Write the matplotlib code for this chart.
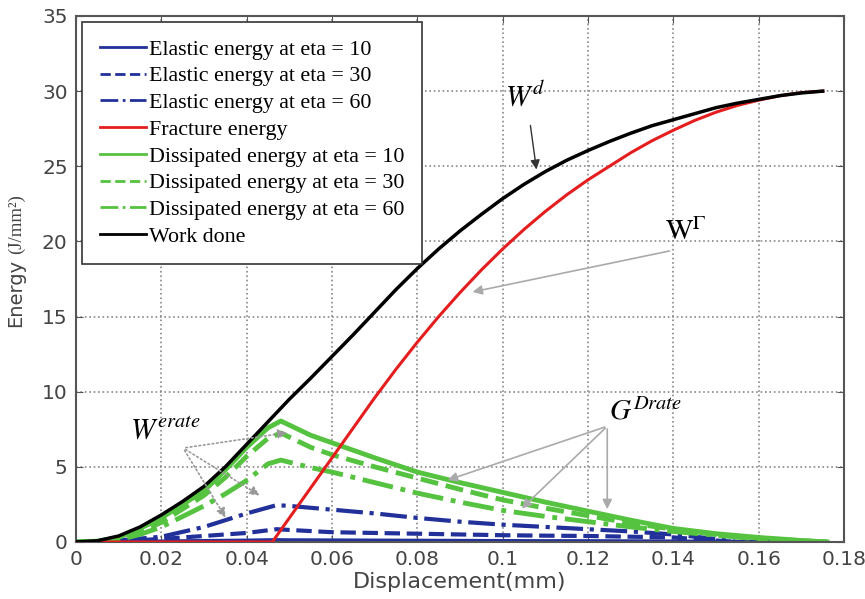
import numpy as np
from matplotlib import pyplot as plt

plt.rcParams['mathtext.fontset'] = 'stix'

# Work done (black)
x_work = [0, 0.005, 0.01, 0.015, 0.02, 0.025, 0.03, 0.035, 0.04, 0.045, 0.05, 0.055,
          0.06, 0.065, 0.07, 0.075, 0.08, 0.085, 0.09, 0.095, 0.1, 0.105, 0.11, 0.115,
          0.12, 0.125, 0.13, 0.135, 0.14, 0.145, 0.15, 0.155, 0.16, 0.165, 0.17, 0.175]
work_done = [0, 0.08, 0.4, 1.0, 1.8, 2.7, 3.7, 5.0, 6.5, 8.0, 9.5, 10.9,
             12.35, 13.8, 15.3, 16.8, 18.2, 19.5, 20.7, 21.8, 22.85, 23.8, 24.65, 25.4,
             26.05, 26.65, 27.2, 27.7, 28.1, 28.5, 28.9, 29.2, 29.45, 29.7, 29.88, 30.0]

# Fracture energy (red)
x_frac = [0, 0.046, 0.05, 0.055, 0.06, 0.065, 0.07, 0.075, 0.08, 0.085, 0.09, 0.095,
          0.1, 0.105, 0.11, 0.115, 0.12, 0.125, 0.13, 0.135, 0.14, 0.145, 0.15, 0.155,
          0.16, 0.165, 0.17, 0.175]
fracture = [0, 0, 1.6, 3.6, 5.6, 7.6, 9.6, 11.5, 13.3, 15.0, 16.6, 18.1,
            19.5, 20.8, 22.0, 23.1, 24.1, 25.0, 25.9, 26.7, 27.4, 28.05, 28.6, 29.05,
            29.4, 29.7, 29.9, 30.0]

# Dissipated energy (green)
x_diss = [0, 0.005, 0.01, 0.015, 0.02, 0.025, 0.03, 0.035, 0.04, 0.045, 0.048, 0.055,
          0.06, 0.07, 0.08, 0.09, 0.1, 0.11, 0.12, 0.13, 0.14, 0.15, 0.16, 0.17, 0.176]
diss_eta10 = [0, 0.05, 0.3, 0.9, 1.6, 2.5, 3.4, 4.8, 6.3, 7.6, 8.05, 7.1,
              6.6, 5.6, 4.65, 3.95, 3.3, 2.65, 2.05, 1.45, 0.9, 0.55, 0.3, 0.1, 0]
diss_eta30 = [0, 0.03, 0.2, 0.7, 1.3, 2.2, 3.1, 4.3, 5.7, 6.9, 7.25, 6.3,
              5.8, 5.0, 4.25, 3.5, 2.8, 2.25, 1.75, 1.25, 0.85, 0.5, 0.25, 0.08, 0]
diss_eta60 = [0, 0.02, 0.15, 0.5, 1.0, 1.7, 2.4, 3.2, 4.1, 5.2, 5.45, 4.95,
              4.65, 3.95, 3.25, 2.65, 2.1, 1.7, 1.35, 1.0, 0.7, 0.45, 0.2, 0.06, 0]

# Elastic energy (blue)
x_elas = [0, 0.01, 0.02, 0.03, 0.04, 0.047, 0.05, 0.06, 0.07, 0.08, 0.09, 0.1,
          0.11, 0.12, 0.13, 0.14, 0.15, 0.155, 0.176]
elas_eta10 = [0, 0.01, 0.03, 0.06, 0.09, 0.12, 0.11, 0.1, 0.09, 0.08, 0.07, 0.06,
              0.05, 0.05, 0.04, 0.03, 0.01, 0, 0]
elas_eta30 = [0, 0.05, 0.2, 0.4, 0.6, 0.85, 0.8, 0.65, 0.6, 0.55, 0.5, 0.45,
              0.42, 0.4, 0.35, 0.3, 0.1, 0, 0]
elas_eta60 = [0, 0.1, 0.35, 1.0, 1.9, 2.45, 2.4, 2.15, 1.9, 1.6, 1.35, 1.15,
              1.0, 0.85, 0.7, 0.5, 0.2, 0, 0]

x_ticks = [0, 0.02, 0.04, 0.06, 0.08, 0.1, 0.12, 0.14, 0.16, 0.18]
x_tick_labels = ['0', '0.02', '0.04', '0.06', '0.08', '0.1', '0.12', '0.14', '0.16', '0.18']
y_ticks = [0, 5, 10, 15, 20, 25, 30, 35]

blue = '#22309a'
red = '#e41e1e'
green = '#55c340'

fig = plt.figure(figsize=(8.65, 5.99), dpi=100)
ax = fig.add_axes([0.0879, 0.0952, 0.8879, 0.8781])

ax.plot(x_elas, elas_eta10, color=blue, lw=3, ls='-', label='Elastic energy at eta = 10')
ax.plot(x_elas, elas_eta30, color=blue, lw=3, ls='--', label='Elastic energy at eta = 30')
ax.plot(x_elas, elas_eta60, color=blue, lw=3, ls='-.', label='Elastic energy at eta = 60')
ax.plot(x_frac, fracture, color=red, lw=2.2, ls='-', label='Fracture energy', zorder=4)
ax.plot(x_diss, diss_eta10, color=green, lw=3.5, ls='-', label='Dissipated energy at eta = 10')
ax.plot(x_diss, diss_eta30, color=green, lw=3.5, ls='--', label='Dissipated energy at eta = 30')
ax.plot(x_diss, diss_eta60, color=green, lw=3.5, ls='-.', label='Dissipated energy at eta = 60')
ax.plot(x_work, work_done, color='black', lw=2.5, ls='-', label='Work done', zorder=5)

ax.set_xlim(0, 0.18)
ax.set_ylim(0, 35)
ax.set_xticks(x_ticks)
ax.set_xticklabels(x_tick_labels)
ax.set_yticks(y_ticks)
ax.tick_params(direction='in', top=True, right=True, length=5, labelsize=14.5,
               labelcolor='#444444', color='#555555', pad=6)
ax.grid(True, ls=':', color='#888888', lw=1.2)
for s in ax.spines.values():
    s.set_color('#555555')
    s.set_linewidth(1.5)

ax.set_xlabel('Displacement(mm)', fontsize=16, color='#444444', labelpad=2)
fig.text(0.018, 1 - 293 / 599, 'Energy', rotation=90, ha='center', va='center',
         fontsize=14, color='#444444')
fig.text(0.019, 1 - 224 / 599, '(J/mm²)', rotation=90, ha='center', va='center',
         fontsize=13.5, color='#444444', family='Liberation Serif')

leg = ax.legend(loc='upper left', bbox_to_anchor=(0.008, 0.989), borderaxespad=0,
                prop={'family': 'Liberation Serif', 'size': 15.8}, fancybox=False,
                framealpha=1, edgecolor='#333333', handlelength=2.1, handletextpad=0.15,
                labelspacing=0.29, borderpad=0.8)
leg.get_frame().set_linewidth(1.2)
for h in leg.get_lines():
    h.set_linewidth(2)
leg.set_zorder(10)

# annotations
ax.text(0.1005, 29.7, '$W^{d}$', fontsize=21, va='center', ha='left')
ax.annotate('', xy=(0.108, 24.6), xytext=(0.1064, 27.9),
            arrowprops=dict(arrowstyle='-|>', color='#333333', lw=1, mutation_scale=14))

ax.text(0.138, 20.6, r'$\mathrm{W}^{\Gamma}$', fontsize=21, va='center', ha='left')
ax.annotate('', xy=(0.0923, 16.6), xytext=(0.1397, 19.4),
            arrowprops=dict(arrowstyle='-|>', color='#aaaaaa', lw=1.2, mutation_scale=14))

ax.text(0.0127, 7.45, '$W^{erate}$', fontsize=21, va='center', ha='left')
for tx, ty in [(0.0502, 7.3), (0.0436, 3.0), (0.0354, 1.46)]:
    ax.annotate('', xy=(tx, ty), xytext=(0.0251, 6.25),
                arrowprops=dict(arrowstyle='-|>', color='#999999', lw=1.2, ls=':',
                                mutation_scale=14), zorder=6)

ax.text(0.125, 8.7, '$G^{Drate}$', fontsize=21, va='center', ha='left')
for tx, ty in [(0.0865, 4.06), (0.104, 2.1), (0.1245, 2.0)]:
    ax.annotate('', xy=(tx, ty), xytext=(0.1245, 7.7),
                arrowprops=dict(arrowstyle='-|>', color='#aaaaaa', lw=1.2,
                                mutation_scale=14), zorder=6)

fig.savefig('out.png', dpi=100)
